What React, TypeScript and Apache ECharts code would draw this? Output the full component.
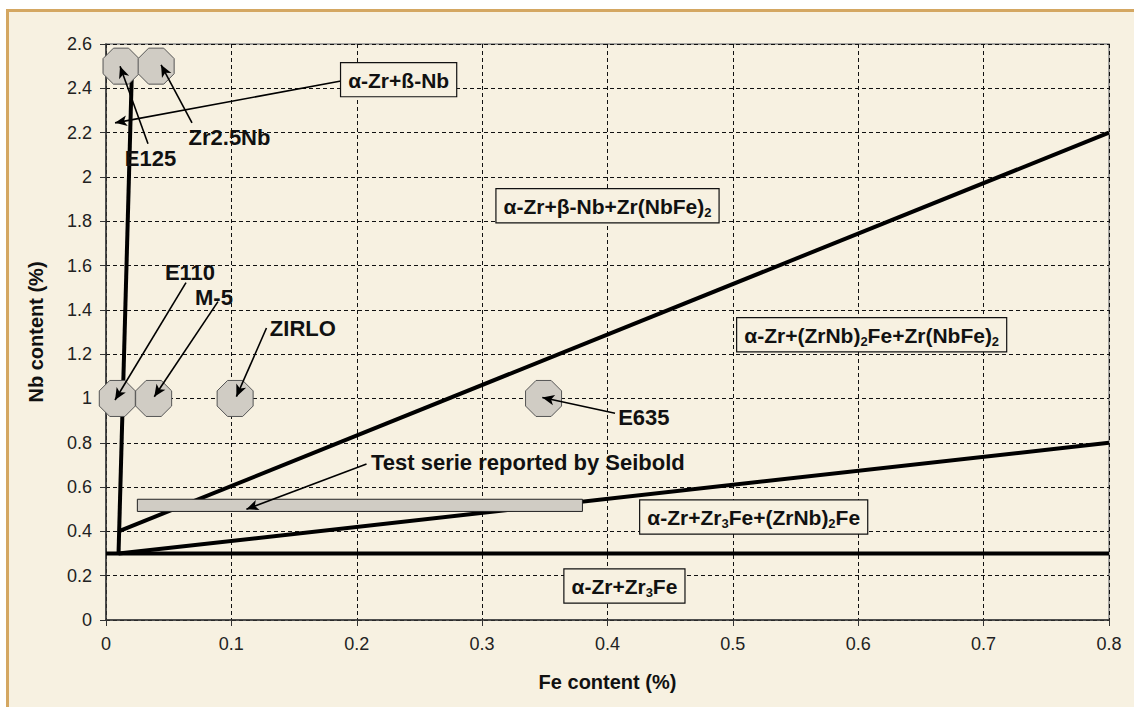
import React, { useEffect, useRef } from "react";
import * as echarts from "echarts";

// Phase boundary lines [Fe, Nb]
const betaNbBoundary = [[0.01, 0.3], [0.021, 2.55]];
const zr3FeBoundary = [[0, 0.3], [0.8, 0.3]];
const lowerBoundary = [[0.01, 0.3], [0.8, 0.8]];
const upperBoundary = [[0.01, 0.4], [0.8, 2.2]];

// Alloys
const alloyNames = ["E125", "Zr2.5Nb", "E110", "M-5", "ZIRLO", "E635"];
const alloyFe = [0.012, 0.04, 0.009, 0.038, 0.103, 0.349];
const alloyNb = [2.5, 2.5, 1.0, 1.0, 1.0, 1.0];

// Seibold test series range
const seiboldFe = [0.025, 0.38];
const seiboldNb = [0.49, 0.545];

// Phase region labels
const phaseLabels = [
  "α-Zr+ß-Nb",
  "α-Zr+β-Nb+Zr(NbFe){s|2}",
  "α-Zr+(ZrNb){s|2}Fe+Zr(NbFe){s|2}",
  "α-Zr+Zr{s|3}Fe+(ZrNb){s|2}Fe",
  "α-Zr+Zr{s|3}Fe",
];
const phaseLabelFe = [0.2334, 0.4, 0.6107, 0.5166, 0.4135];
const phaseLabelNb = [2.439, 1.87, 1.2876, 0.465, 0.1535];

// Annotation labels
const noteLabels = ["E125", "Zr2.5Nb", "E110", "M-5", "ZIRLO", "E635", "Test serie reported by Seibold"];
const noteFe = [0.0355, 0.0985, 0.067, 0.0861, 0.157, 0.429, 0.3365];
const noteNb = [2.081, 2.176, 1.567, 1.454, 1.314, 0.913, 0.71];

// Arrows: from -> to
const arrowFrom = [
  [0.0335, 2.15], [0.0686, 2.244], [0.1874, 2.433], [0.0638, 1.523],
  [0.0893, 1.437], [0.128, 1.318], [0.406, 0.933], [0.2078, 0.704],
];
const arrowTo = [
  [0.0112, 2.5], [0.0439, 2.506], [0.0072, 2.244], [0.0072, 0.993],
  [0.0385, 1.008], [0.104, 1.008], [0.348, 1.004], [0.112, 0.5],
];

const FONT = "'Liberation Sans', Arial, sans-serif";
const OCTAGON = "path://M29,0 L71,0 L100,29 L100,71 L71,100 L29,100 L0,71 L0,29 Z";

export default function App() {
  const ref = useRef<HTMLDivElement>(null);
  useEffect(() => {
    const chart = echarts.init(ref.current!, null, { renderer: "svg" });
    const lineSeries = (data: number[][]) => ({
      type: "line",
      data,
      symbol: "none",
      z: 3,
      lineStyle: { color: "#000", width: 4 },
      silent: true,
    });
    const option: any = {
      animation: false,
      backgroundColor: "#ffffff",
      graphic: {
        elements: [
          {
            type: "rect",
            z: -10,
            shape: { x: 7.5, y: 10.5, width: 1200, height: 800 },
            style: { fill: "#f7f1e1", stroke: "#d4a762", lineWidth: 3 },
          },
        ],
      },
      grid: {
        left: 106,
        right: 25,
        top: 44,
        bottom: 87,
        show: true,
        borderColor: "#8a8a8a",
        borderWidth: 1.5,
        backgroundColor: "transparent",
      },
      xAxis: {
        type: "value",
        min: 0,
        max: 0.8,
        interval: 0.1,
        name: "Fe content (%)",
        nameLocation: "middle",
        nameGap: 52,
        nameTextStyle: { fontFamily: FONT, fontSize: 20, fontWeight: "bold", color: "#111" },
        axisLine: { show: true, lineStyle: { color: "#333", width: 1.5 } },
        axisTick: { show: true, length: 6, lineStyle: { color: "#333" } },
        axisLabel: { fontFamily: FONT, fontSize: 18, color: "#222", margin: 15 },
        splitLine: { show: true, lineStyle: { color: "#111", width: 1, type: [4, 3] } },
      },
      yAxis: {
        type: "value",
        min: 0,
        max: 2.6,
        interval: 0.2,
        name: "Nb content (%)",
        nameLocation: "middle",
        nameGap: 60,
        nameTextStyle: { fontFamily: FONT, fontSize: 20, fontWeight: "bold", color: "#111" },
        axisLine: { show: true, lineStyle: { color: "#333", width: 1.5 } },
        axisTick: { show: true, length: 6, lineStyle: { color: "#333" } },
        axisLabel: { fontFamily: FONT, fontSize: 18, color: "#222", margin: 14 },
        splitLine: { show: true, lineStyle: { color: "#111", width: 1, type: [4, 3] } },
      },
      series: [
        lineSeries(zr3FeBoundary),
        lineSeries(lowerBoundary),
        lineSeries(upperBoundary),
        lineSeries(betaNbBoundary),
        {
          type: "scatter",
          z: 6,
          data: [],
          markArea: {
            z: 6,
            silent: true,
            itemStyle: { color: "#d0ccc4", borderColor: "#222", borderWidth: 1, opacity: 1 },
            data: [[{ coord: [seiboldFe[0], seiboldNb[0]] }, { coord: [seiboldFe[1], seiboldNb[1]] }]],
          },
        },
        {
          type: "scatter",
          z: 8,
          symbol: OCTAGON,
          symbolSize: 36,
          itemStyle: { color: "#d0ccc4", borderColor: "#555", borderWidth: 1, opacity: 1 },
          data: alloyNames.map((n, i) => ({ name: n, value: [alloyFe[i], alloyNb[i]] })),
          silent: true,
        },
        {
          type: "scatter",
          z: 20,
          data: [],
          markLine: {
            z: 20,
            silent: true,
            symbol: ["none", "arrow"],
            symbolSize: [8, 12],
            label: { show: false },
            lineStyle: { color: "#000", width: 1.6, type: "solid" },
            data: arrowFrom.map((f, i) => [{ coord: f }, { coord: arrowTo[i] }]),
          },
        },
        {
          type: "scatter",
          z: 22,
          data: [],
          markPoint: {
            z: 22,
            silent: true,
            symbol: "rect",
            symbolSize: 1,
            itemStyle: { color: "transparent" },
            label: {
              show: true,
              position: "inside",
              fontFamily: FONT,
              fontSize: 21,
              fontWeight: "bold",
              color: "#111",
              lineHeight: 26,
              backgroundColor: "#f7f1e1",
              borderColor: "#111",
              borderWidth: 1.2,
              padding: [4, 7, 3, 7],
              rich: {
                s: { fontFamily: FONT, fontSize: 13, fontWeight: "bold", color: "#111", padding: [12, 0, 0, 0] },
              },
            },
            data: phaseLabels.map((t, i) => ({
              coord: [phaseLabelFe[i], phaseLabelNb[i]],
              label: { formatter: t },
            })),
          },
        },
        {
          type: "scatter",
          z: 22,
          data: [],
          markPoint: {
            z: 22,
            silent: true,
            symbol: "rect",
            symbolSize: 1,
            itemStyle: { color: "transparent" },
            label: {
              show: true,
              position: "inside",
              fontFamily: FONT,
              fontSize: 22,
              fontWeight: "bold",
              color: "#111",
            },
            data: noteLabels.map((t, i) => ({
              coord: [noteFe[i], noteNb[i]],
              label: { formatter: t },
            })),
          },
        },
      ],
    };
    chart.setOption(option);
    return () => chart.dispose();
  }, []);
  return <div ref={ref} style={{ position: "fixed", left: 0, top: 0, width: 1134, height: 707 }} />;
}
